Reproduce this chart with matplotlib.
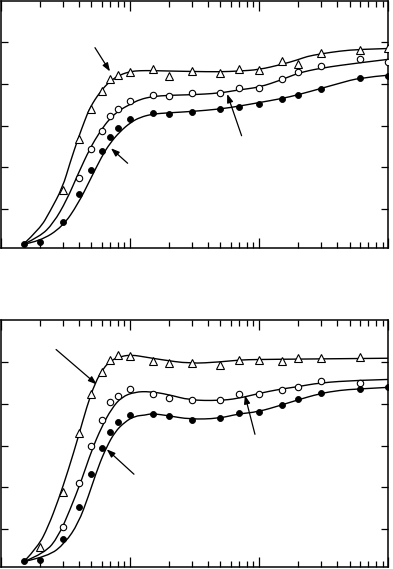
# Two panels, log time axis, three measured series with fitted curves

import matplotlib.pyplot as plt
import numpy as np
from matplotlib.path import Path
from matplotlib.patches import PathPatch

# ---------------------------
# Data (upper panel)

tri_x1 = [3, 4, 5, 6, 7, 8, 10, 15, 20, 30, 50, 70, 100, 150, 200, 300, 600, 1000]
tri_y1 = [1.46, 2.68, 3.40, 3.82, 4.12, 4.21, 4.29, 4.37, 4.19, 4.32, 4.27, 4.35, 4.33, 4.56, 4.49, 4.74, 4.82, 4.85]

open_x1 = [4, 5, 6, 7, 8, 10, 15, 20, 30, 50, 70, 100, 150, 200, 300, 600, 1000]
open_y1 = [1.74, 2.44, 2.88, 3.24, 3.40, 3.59, 3.74, 3.71, 3.79, 3.79, 3.91, 3.90, 4.12, 4.28, 4.43, 4.60, 4.52]

fill_x1 = [1.5, 2, 3, 4, 5, 6, 7, 8, 10, 15, 20, 30, 50, 70, 100, 150, 200, 300, 600, 1000]
fill_y1 = [0.16, 0.22, 0.69, 1.36, 1.95, 2.40, 2.73, 2.95, 3.16, 3.31, 3.29, 3.32, 3.40, 3.46, 3.53, 3.65, 3.74, 3.89, 4.15, 4.19]

# fitted curves (upper panel)
tri_cx1 = [1.49, 2.0, 2.39, 3.0, 3.42, 3.97, 4.47, 4.89, 5.84, 6.98, 8.34, 10.1, 11.9, 14.9, 20, 29.9, 49.5, 69.5, 98.4, 150, 199, 234, 298, 421, 600, 995]
tri_cy1 = [0.16, 0.53, 0.94, 1.52, 2.11, 2.71, 3.14, 3.44, 3.81, 4.07, 4.22, 4.30, 4.32, 4.32, 4.31, 4.30, 4.29, 4.31, 4.34, 4.47, 4.58, 4.66, 4.72, 4.79, 4.83, 4.85]

open_cx1 = [1.49, 2.0, 2.54, 3.23, 3.97, 4.89, 5.84, 6.98, 8.34, 10.1, 11.9, 14.9, 20, 29.5, 49.5, 69.5, 99.8, 149, 199, 297, 600, 995]
open_cy1 = [0.16, 0.34, 0.66, 1.22, 1.86, 2.46, 2.86, 3.18, 3.38, 3.52, 3.63, 3.70, 3.73, 3.74, 3.78, 3.86, 3.92, 4.10, 4.26, 4.38, 4.51, 4.59]

fill_cx1 = [1.49, 2.0, 3.0, 3.97, 4.89, 6.02, 6.98, 8.34, 10.1, 11.9, 14.9, 20, 29.9, 50, 70, 98, 149, 199, 298, 421, 600, 995]
fill_cy1 = [0.16, 0.23, 0.58, 1.14, 1.70, 2.26, 2.58, 2.86, 3.08, 3.20, 3.28, 3.31, 3.34, 3.40, 3.47, 3.55, 3.65, 3.74, 3.89, 4.02, 4.15, 4.21]

# ---------------------------
# Data (lower panel)

tri_x2 = [2, 3, 4, 5, 6, 7, 8, 10, 15, 20, 30, 50, 70, 100, 150, 200, 300, 600]
tri_y2 = [0.57, 1.89, 3.30, 4.24, 4.76, 5.06, 5.18, 5.15, 5.03, 4.98, 4.98, 4.93, 5.06, 5.06, 5.03, 5.10, 5.11, 5.13]

open_x2 = [3, 4, 5, 6, 7, 8, 10, 15, 20, 30, 50, 70, 100, 150, 200, 300, 600]
open_y2 = [1.03, 2.09, 3.00, 3.61, 4.05, 4.20, 4.36, 4.24, 4.14, 4.09, 4.09, 4.24, 4.24, 4.33, 4.42, 4.56, 4.51]

fill_x2 = [1.5, 2, 3, 4, 5, 6, 7, 8, 10, 15, 20, 30, 50, 70, 100, 150, 200, 300, 600, 1000]
fill_y2 = [0.21, 0.25, 0.74, 1.53, 2.31, 2.93, 3.33, 3.57, 3.73, 3.76, 3.71, 3.61, 3.67, 3.78, 3.81, 3.97, 4.11, 4.27, 4.36, 4.40]

# fitted curves (lower panel)
tri_cx2 = [1.51, 1.94, 2.32, 2.78, 3.32, 3.97, 4.61, 5.34, 6.19, 7.19, 8.6, 10.3, 13.0, 17.0, 29.0, 49.5, 70.8, 97.9, 206, 1000]
tri_cy2 = [0.21, 0.57, 1.05, 1.69, 2.41, 3.21, 3.93, 4.50, 4.86, 5.06, 5.15, 5.18, 5.13, 5.07, 4.97, 5.01, 5.06, 5.07, 5.08, 5.10]

open_cx2 = [1.51, 2.19, 2.78, 3.42, 4.21, 5.04, 6.02, 7.19, 8.6, 10.9, 14.2, 19.6, 29.0, 48.6, 68.3, 97.9, 147, 195, 294, 578, 1000]
open_cy2 = [0.21, 0.41, 0.81, 1.45, 2.17, 2.89, 3.45, 3.89, 4.17, 4.29, 4.30, 4.23, 4.09, 4.08, 4.13, 4.25, 4.36, 4.41, 4.51, 4.57, 4.59]

fill_cx2 = [1.51, 2.32, 3.13, 3.97, 4.74, 5.66, 6.58, 7.63, 9.11, 10.9, 13.0, 14.7, 19.6, 29.0, 48.6, 68.3, 97.9, 147, 195, 294, 421, 578, 1000]
fill_cy2 = [0.21, 0.33, 0.65, 1.13, 1.77, 2.49, 2.97, 3.33, 3.57, 3.71, 3.73, 3.77, 3.72, 3.63, 3.65, 3.76, 3.81, 3.97, 4.09, 4.25, 4.33, 4.36, 4.40]

# arrows: (tail x, tail y, tip x, tip y)
arrows1 = [(5.34, 4.87, 6.98, 4.30), (9.56, 2.10, 7.10, 2.46), (72.9, 2.76, 56.4, 3.76)]
arrows2 = [(2.67, 5.31, 5.51, 4.47), (10.7, 2.31, 6.58, 2.91), (92.5, 3.27, 77.3, 4.21)]

#---------------------------
fig = plt.figure(figsize=(3.93, 5.69), dpi=100)

ax1 = fig.add_axes([1 / 393, 321 / 569, 387.5 / 393, 247.5 / 569])
ax2 = fig.add_axes([1 / 393, 1.7 / 569, 387.5 / 393, 247.3 / 569])


def smooth_curve(ax, cx, cy):
    # quadratic bezier: nodes are control points, joins at the midpoints (in log x)
    lx = np.log10(cx)
    cy = np.asarray(cy)
    verts = [(lx[0], cy[0])]
    codes = [Path.MOVETO]
    for i in range(1, len(lx) - 1):
        end = ((lx[i] + lx[i + 1]) / 2, (cy[i] + cy[i + 1]) / 2)
        if i == len(lx) - 2:
            end = (lx[-1], cy[-1])
        verts += [(lx[i], cy[i]), end]
        codes += [Path.CURVE3, Path.CURVE3]
    verts = [(10 ** vx, vy) for vx, vy in verts]
    ax.add_patch(PathPatch(Path(verts, codes), fill=False, edgecolor="black", lw=1.0, zorder=2))


def draw_panel(ax, curves, series, arrows, ylim):
    for cx, cy in curves:
        smooth_curve(ax, cx, cy)

    (tx, ty), (ox, oy), (fx, fy) = series
    ax.plot(tx, ty, ls="none", marker="^", ms=5.6, mfc="white", mec="black", mew=0.8, zorder=3)
    ax.plot(ox, oy, ls="none", marker="o", ms=4.6, mfc="white", mec="black", mew=0.8, zorder=3)
    ax.plot(fx, fy, ls="none", marker="o", ms=4.3, mfc="black", mec="black", mew=0.6, zorder=3)

    for x0, y0, x1, y1 in arrows:
        ax.annotate("", xy=(x1, y1), xytext=(x0, y0),
                    arrowprops=dict(arrowstyle="-|>,head_length=0.5,head_width=0.18",
                                    color="black", lw=0.9, shrinkA=0, shrinkB=0))

    ax.set_xscale("log")
    ax.set_xlim(1, 1000)
    ax.set_ylim(*ylim)
    ax.set_yticks([1, 2, 3, 4, 5])
    ax.tick_params(which="both", direction="in", top=True, right=True,
                   labelbottom=False, labelleft=False, width=0.9)
    ax.tick_params(which="major", length=7)
    ax.tick_params(which="minor", length=4.5)
    ax.tick_params(axis="y", which="major", length=5)
    for s in ax.spines.values():
        s.set_linewidth(1.1)


draw_panel(ax1,
           [(tri_cx1, tri_cy1), (open_cx1, open_cy1), (fill_cx1, fill_cy1)],
           [(tri_x1, tri_y1), (open_x1, open_y1), (fill_x1, fill_y1)],
           arrows1, (0.07, 6.0))

draw_panel(ax2,
           [(tri_cx2, tri_cy2), (open_cx2, open_cy2), (fill_cx2, fill_cy2)],
           [(tri_x2, tri_y2), (open_x2, open_y2), (fill_x2, fill_y2)],
           arrows2, (0.07, 6.02))

plt.savefig("out.png", dpi=100)
